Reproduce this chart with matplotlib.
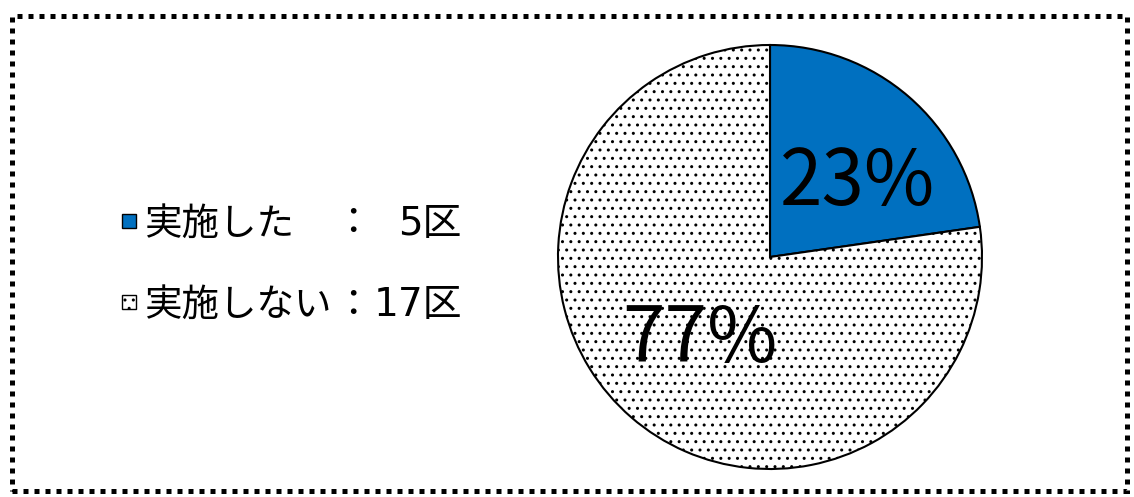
import matplotlib.pyplot as plt
from matplotlib.patches import Rectangle

plt.rcParams['font.family'] = ['Noto Sans CJK JP', 'DejaVu Sans']

# data
labels = ["実施した", "実施しない"]
counts = [5, 17]
pct_labels = ["23%", "77%"]
count_labels = ["5区", "17区"]
colors = ["#0070C0", "white"]
hatches = ["", ".."]

W, H = 1134, 497
fig = plt.figure(figsize=(W / 100, H / 100), dpi=100)

# dotted frame
frame = Rectangle((12 / W, 6 / H), 1115 / W, 475 / H, transform=fig.transFigure,
                  fill=False, edgecolor="black", linewidth=3.6,
                  linestyle=(0, (1, 1.2)))
fig.patches.append(frame)

# pie
cx, cy, r = 770, 257, 212
ax = fig.add_axes([(cx - r) / W, (H - cy - r) / H, 2 * r / W, 2 * r / H])
wedges, _ = ax.pie(counts, colors=colors, startangle=90, counterclock=False,
                   wedgeprops=dict(edgecolor="black", linewidth=1.5))
for w, h in zip(wedges, hatches):
    w.set_hatch(h)
ax.set_xlim(-1, 1)
ax.set_ylim(-1, 1)
ax.set_aspect("equal")
ax.axis("off")

ax.text(0.415, 0.35, pct_labels[0], fontsize=55, ha="center", va="center")
ax.text(-0.33, -0.395, pct_labels[1], fontsize=55, ha="center", va="center")

# legend drawn by hand
ys = [224, 305]
for y, name, cnt, c, h in zip(ys, labels, count_labels, colors, hatches):
    sq = Rectangle((122 / W, (H - y - 4) / H), 14 / W, 14 / H,
                   transform=fig.transFigure, facecolor=c, edgecolor="black",
                   linewidth=1, hatch=h)
    fig.patches.append(sq)
    fy = (H - y) / H
    fig.text(144 / W, fy, name, fontsize=27, ha="left", va="center")
    fig.text(353 / W, fy, "：", fontsize=27, ha="center", va="center")
    fig.text(462 / W, fy, cnt, fontsize=28, ha="right", va="center",
             family=["DejaVu Sans", "Noto Sans CJK JP"])

fig.savefig("out.png", dpi=100)
